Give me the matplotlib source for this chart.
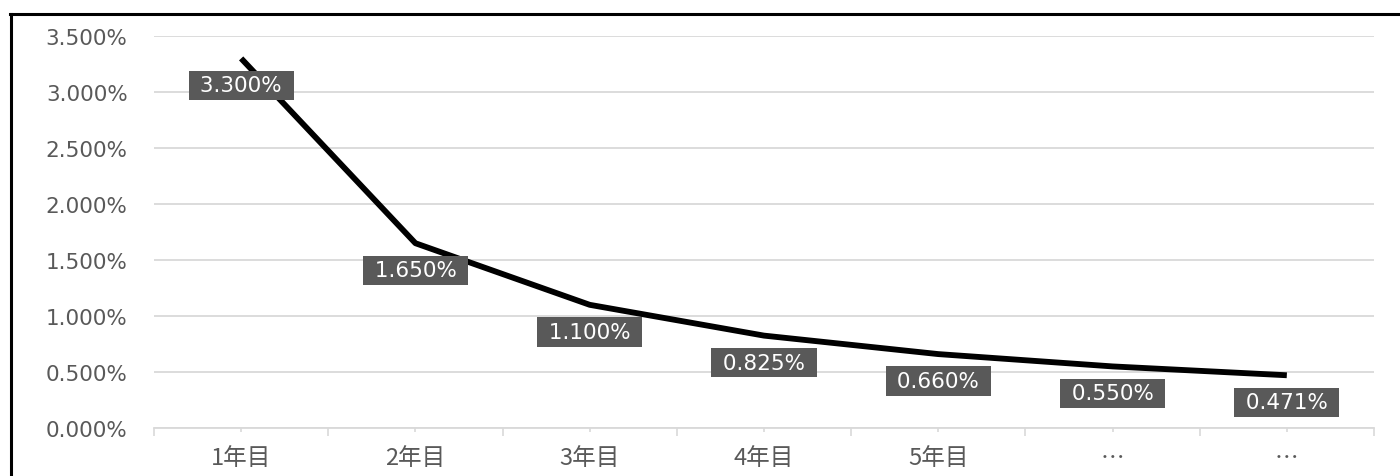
import matplotlib
matplotlib.use("Agg")
import matplotlib.pyplot as plt
from matplotlib.lines import Line2D

plt.rcParams['font.family'] = ['Noto Sans CJK JP', 'DejaVu Sans']

# ---- data ----
categories = ["1年目", "2年目", "3年目", "4年目", "5年目", "…", "…"]
rates = [3.300, 1.650, 1.100, 0.825, 0.660, 0.550, 0.471]
y_ticks = [0.0, 0.5, 1.0, 1.5, 2.0, 2.5, 3.0, 3.5]

GRID = '#d9d9d9'
TEXT = '#595959'

fig = plt.figure(figsize=(14, 4.77), dpi=100)
ax = fig.add_axes([0.11, 0.1006, 0.8714, 0.8218])

x = list(range(len(categories)))
ax.plot(x, rates, color='black', linewidth=4.2, solid_capstyle='butt', zorder=3)

# data labels: dark box, white text, centred under each point
for xi, v in zip(x, rates):
    ax.annotate(f" {v:.3f}% ", (xi, v), xytext=(0, -19.5), textcoords='offset points',
                ha='center', va='center', color='white', fontsize=15.5,
                family='DejaVu Sans',
                bbox=dict(boxstyle='square,pad=0.22', facecolor=TEXT, edgecolor='none'),
                zorder=4)

ax.set_xlim(-0.5, len(categories) - 0.5)
ax.set_ylim(0, 3.5)
ax.set_yticks(y_ticks)
ax.set_yticklabels([f"{t:.3f}%" for t in y_ticks], family='DejaVu Sans')
ax.tick_params(axis='y', length=0, pad=19, labelsize=15.5, labelcolor=TEXT)

ax.set_xticks([i - 0.5 for i in range(len(categories) + 1)])
ax.set_xticklabels([])
ax.set_xticks(x, minor=True)
ax.set_xticklabels(categories, minor=True)
ax.tick_params(axis='x', which='major', length=6, width=1.2, color=GRID)
ax.tick_params(axis='x', which='minor', length=3, width=1.2, color=GRID,
               pad=10, labelsize=17, labelcolor=TEXT)

ax.grid(axis='y', color=GRID, linewidth=1.3)
ax.set_axisbelow(True)
for side in ['top', 'right', 'left']:
    ax.spines[side].set_visible(False)
ax.spines['bottom'].set_color(GRID)
ax.spines['bottom'].set_linewidth(1.3)

# outer frame (left and top edges)
fig.add_artist(Line2D([11 / 1400, 11 / 1400], [0, 1 - 15 / 477], color='black', linewidth=2.2))
fig.add_artist(Line2D([10 / 1400, 1], [1 - 15 / 477, 1 - 15 / 477], color='black', linewidth=2.2))

fig.savefig('out.png', dpi=100)
